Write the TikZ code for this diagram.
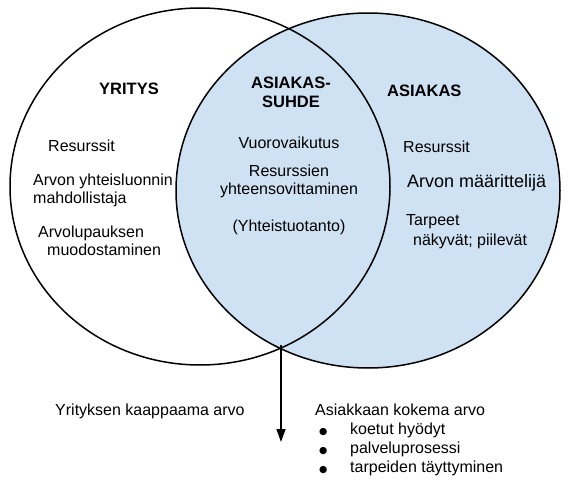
\documentclass[tikz,border=0pt]{standalone}
\usepackage{fontspec}
\setmainfont{Liberation Sans}
\newfontfamily\symfont{DejaVu Sans}
\usetikzlibrary{arrows.meta}
\definecolor{lightblue}{HTML}{CFE2F3}
\newcommand{\bigbul}{\makebox[35pt][l]{\hspace{4pt}{\symfont\fontsize{9.5}{19}\selectfont ●}}}
\begin{document}
\begin{tikzpicture}[x=1pt,y=-1pt,
  outline/.style={line width=1.5pt, draw=black},
  body/.style={font=\fontsize{16}{18}\selectfont, inner sep=0pt},
  bigbody/.style={font=\fontsize{18}{20}\selectfont, inner sep=0pt},
  heading/.style={font=\fontsize{16.5}{20}\selectfont\bfseries, inner sep=0pt, align=center},
  listbody/.style={font=\fontsize{16}{19}\selectfont, inner sep=0pt, align=left},
  arrowline/.style={line width=1.4pt, -{Triangle[width=9pt,length=13pt]}}]
\useasboundingbox (0,0) rectangle (571,487);
% circles
\fill[lightblue] (368,190.5) ellipse [x radius=192pt, y radius=177.5pt];
\draw[outline] (200,186.5) ellipse [x radius=190pt, y radius=178.5pt];
\draw[outline] (368,190.5) ellipse [x radius=192pt, y radius=177.5pt];
% headings
\node[heading, anchor=base] (yritys) at (129,95) {YRITYS};
\node[heading, anchor=base] (suhde) at (291,108) {ASIAKAS-\\SUHDE};
\node[heading, anchor=base west] (asiakas) at (387,97) {ASIAKAS};
% left
\node[body, anchor=base west] (l1) at (48,151) {Resurssit};
\node[body, anchor=base west] (l2) at (33,185) {Arvon yhteisluonnin};
\node[body, anchor=base west] (l3) at (33,203) {mahdollistaja};
\node[body, anchor=base west] (l4) at (38,237) {Arvolupauksen};
\node[body, anchor=base west] (l5) at (47,255) {muodostaminen};
% middle
\node[body, anchor=base] (m1) at (289,148) {Vuorovaikutus};
\node[body, anchor=base] (m2) at (289,176) {Resurssien};
\node[body, anchor=base] (m3) at (289,194) {yhteensovittaminen};
\node[body, anchor=base] (m4) at (289,231) {(Yhteistuotanto)};
% right
\node[body, anchor=base west] (r1) at (403,152) {Resurssit};
\node[bigbody, anchor=base west] (r2) at (407,187) {Arvon määrittelijä};
\node[body, anchor=base west] (r3) at (406,225) {Tarpeet};
\node[body, anchor=base west] (r4) at (413,245) {näkyvät; piilevät};
% arrow
\coordinate (bottomx) at (281,345);
\coordinate (tip) at (281,442);
\draw[arrowline] (bottomx) -- (tip);
% bottom texts
\node[body, anchor=base west] (captured) at (55,415) {Yrityksen kaappaama arvo};
\node[listbody, anchor=base west] (experienced) at (315,472)
  {Asiakkaan kokema arvo\\
   \bigbul koetut hyödyt\\
   \bigbul palveluprosessi\\
   \bigbul tarpeiden täyttyminen};
\end{tikzpicture}
\end{document}
